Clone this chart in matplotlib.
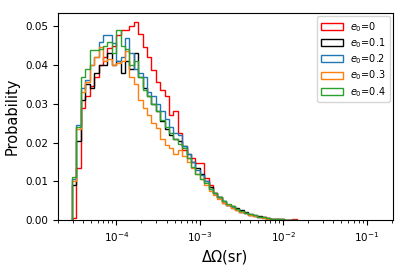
import numpy as np
import matplotlib
matplotlib.use('Agg')
import matplotlib.pyplot as plt

matplotlib.rcParams['xtick.labelsize'] = 7.5
matplotlib.rcParams['ytick.labelsize'] = 7.5

# log-spaced bin edges of the solid angle histogram (sr)
bin_edges = np.logspace(-4.53, -4.53 + 0.0528 * 51, 52)

labels = ['$e_0$=0', '$e_0$=0.1', '$e_0$=0.2', '$e_0$=0.3', '$e_0$=0.4']
colors = ['red', 'black', 'tab:blue', 'tab:orange', 'tab:green']

p_e00 = [0.0005, 0.0135, 0.029, 0.032, 0.0345, 0.037, 0.040, 0.042, 0.0443, 0.045,
         0.0477, 0.049, 0.049, 0.050, 0.051, 0.048, 0.0446, 0.042, 0.0387, 0.0356,
         0.0335, 0.032, 0.027, 0.028, 0.0225, 0.018, 0.016, 0.016, 0.0147, 0.0147,
         0.0108, 0.009, 0.007, 0.006, 0.0045, 0.004, 0.0032, 0.0027, 0.0022, 0.0018,
         0.0014, 0.0011, 0.0009, 0.0007, 0.0005, 0.0004, 0.0003, 0.0002, 0.0001, 0.0001,
         0.0002]
p_e01 = [0.009, 0.0205, 0.031, 0.035, 0.034, 0.038, 0.040, 0.040, 0.043, 0.040,
         0.041, 0.038, 0.041, 0.039, 0.043, 0.037, 0.034, 0.032, 0.030, 0.028,
         0.0255, 0.0235, 0.022, 0.021, 0.0205, 0.019, 0.017, 0.015, 0.0135, 0.012,
         0.010, 0.0085, 0.007, 0.006, 0.005, 0.004, 0.0035, 0.003, 0.0025, 0.002,
         0.0016, 0.0013, 0.001, 0.0008, 0.0006, 0.0004, 0.0003, 0.0002, 0.0001, 0.0,
         0.0]
p_e02 = [0.0105, 0.0245, 0.034, 0.036, 0.040, 0.042, 0.046, 0.0477, 0.0477, 0.0456,
         0.041, 0.042, 0.047, 0.043, 0.039, 0.038, 0.037, 0.033, 0.032, 0.030,
         0.028, 0.026, 0.024, 0.0225, 0.022, 0.019, 0.017, 0.015, 0.013, 0.0115,
         0.010, 0.008, 0.007, 0.006, 0.005, 0.004, 0.0033, 0.0028, 0.0022, 0.0018,
         0.0014, 0.0011, 0.0008, 0.0006, 0.0004, 0.0003, 0.0002, 0.0001, 0.0001, 0.0,
         0.0]
p_e03 = [0.010, 0.0235, 0.033, 0.0355, 0.040, 0.042, 0.0446, 0.041, 0.0415, 0.040,
         0.0405, 0.041, 0.0435, 0.037, 0.035, 0.031, 0.029, 0.027, 0.025, 0.0237,
         0.021, 0.0193, 0.0185, 0.017, 0.018, 0.0165, 0.015, 0.0135, 0.012, 0.0105,
         0.009, 0.0075, 0.0065, 0.0055, 0.0045, 0.0038, 0.0032, 0.0026, 0.0021, 0.0017,
         0.0013, 0.001, 0.0008, 0.0006, 0.0004, 0.0003, 0.0002, 0.0001, 0.0001, 0.0,
         0.0]
p_e04 = [0.011, 0.024, 0.037, 0.039, 0.0438, 0.0438, 0.044, 0.045, 0.046, 0.043,
         0.049, 0.045, 0.044, 0.040, 0.041, 0.037, 0.0335, 0.032, 0.030, 0.028,
         0.0258, 0.024, 0.0224, 0.021, 0.0195, 0.0186, 0.016, 0.0137, 0.012, 0.0105,
         0.0095, 0.008, 0.007, 0.006, 0.005, 0.0042, 0.0035, 0.0029, 0.0024, 0.0019,
         0.0015, 0.0012, 0.0009, 0.0007, 0.0005, 0.0004, 0.0003, 0.0002, 0.0001, 0.0001,
         0.0]

series = [p_e00, p_e01, p_e02, p_e03, p_e04]

fig = plt.figure(figsize=(4.07, 2.71), dpi=100)
ax1 = fig.add_axes([0.1425, 0.188, 0.823, 0.764])

for vals, col, lab in zip(series, colors, labels):
    ax1.hist(bin_edges[:-1], bins=bin_edges, weights=vals, histtype='step',
             color=col, linewidth=1.0, label=lab)

ax1.set_xscale('log')
ax1.set_xlim([2e-5, 0.207])
ax1.set_ylim([0, 0.0534])
ax1.set_xlabel('ΔΩ(sr)', fontsize=10.5)
ax1.set_ylabel('Probability', fontsize=10.5)
ax1.legend(loc='upper right', fontsize=7, labelspacing=0.25, borderaxespad=0.3,
           handlelength=2.2)

plt.savefig('out.png', dpi=100)
